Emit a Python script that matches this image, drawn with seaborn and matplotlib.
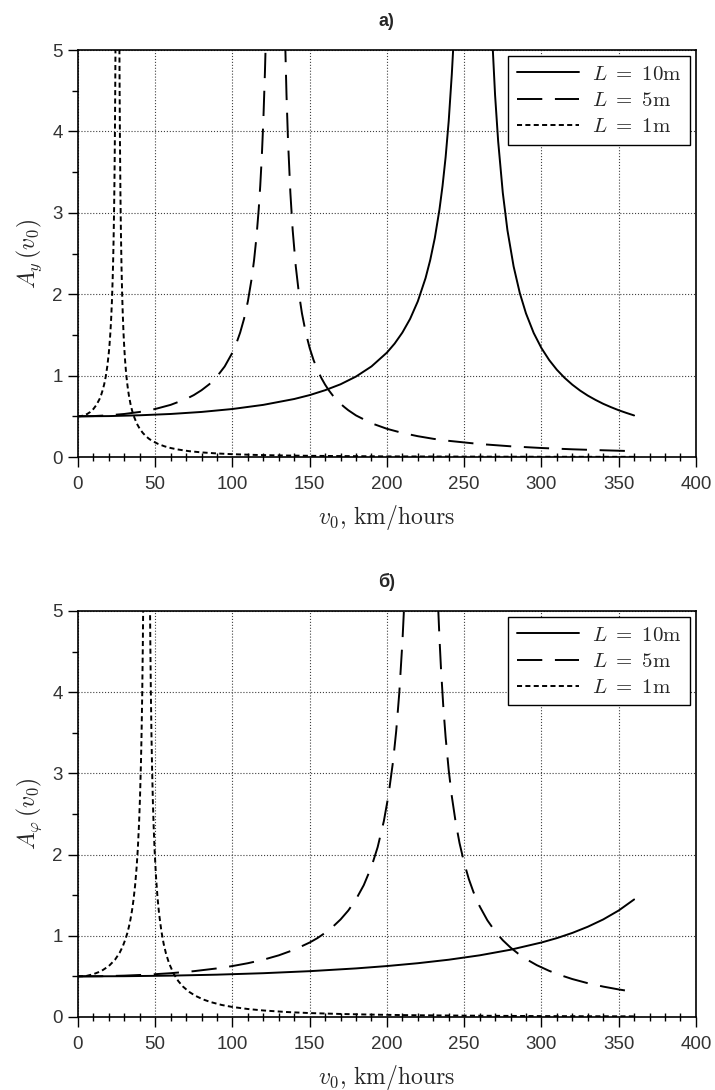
import matplotlib
matplotlib.use('Agg')
import matplotlib.pyplot as plt
import seaborn as sns
from matplotlib.ticker import MultipleLocator

sns.set_theme(style='ticks')
plt.rcParams['font.family'] = ['Liberation Sans', 'DejaVu Sans']
plt.rcParams['mathtext.fontset'] = 'cm'

# DATA

labels = [r'$L\ =\ 10\mathrm{m}$', r'$L\ =\ 5\mathrm{m}$', r'$L\ =\ 1\mathrm{m}$']
titles = ['а)', 'б)']
ylabels = [r'$A_y\,(v_0)$', r'$A_\varphi\,(v_0)$']
xlabel = r'$v_0,\,\mathrm{km/hours}$'

# panel a) A_y
a_v10 = [0, 20, 40, 60, 80, 100, 120, 140, 150, 160, 170, 180, 190, 200, 205, 210, 215,
         220, 225, 228, 231, 234, 236, 238, 240, 242, 243, 244,
         267, 268, 270, 272, 275, 278, 282, 286, 290, 295, 300, 305, 310, 315, 320, 325,
         330, 335, 340, 345, 350, 355, 360]
a_y10 = [0.5, 0.503, 0.513, 0.529, 0.554, 0.59, 0.641, 0.713, 0.761, 0.821, 0.894, 0.989,
         1.113, 1.283, 1.394, 1.529, 1.697, 1.913, 2.198, 2.418, 2.691, 3.04, 3.331, 3.685,
         4.129, 4.704, 5.05, 5.46,
         5.69, 5.21, 4.448, 3.879, 3.247, 2.787, 2.342, 2.015, 1.765, 1.524, 1.339, 1.192,
         1.072, 0.973, 0.889, 0.817, 0.755, 0.702, 0.654, 0.613, 0.575, 0.542, 0.511]

a_v5 = [0, 10, 20, 30, 40, 50, 60, 70, 75, 80, 85, 90, 95, 100, 102.5, 105, 107.5, 110,
        112.5, 114, 115.5, 117, 118, 119, 120, 121, 121.5, 122,
        133.5, 134, 135, 136, 137.5, 139, 141, 143, 145, 147.5, 150, 152.5, 155, 157.5,
        160, 162.5, 165, 167.5, 170, 172.5, 175, 180, 190, 200, 210, 220, 230, 240, 260,
        280, 300, 320, 340, 360]
a_y5 = [0.5, 0.503, 0.513, 0.529, 0.554, 0.59, 0.641, 0.713, 0.761, 0.821, 0.894, 0.989,
        1.113, 1.283, 1.394, 1.529, 1.697, 1.913, 2.198, 2.418, 2.691, 3.04, 3.331, 3.685,
        4.129, 4.704, 5.05, 5.46,
        5.69, 5.21, 4.448, 3.879, 3.247, 2.787, 2.342, 2.015, 1.765, 1.524, 1.339, 1.192,
        1.072, 0.973, 0.889, 0.817, 0.755, 0.702, 0.654, 0.613, 0.575, 0.511, 0.415,
        0.347, 0.296, 0.256, 0.224, 0.199, 0.16, 0.132, 0.111, 0.095, 0.083, 0.072]

a_v1 = [0, 2, 4, 6, 8, 10, 12, 14, 15, 16, 17, 18, 19, 20, 20.5, 21, 21.5, 22, 22.5, 22.8,
        23.1, 23.4, 23.6, 23.8, 24, 24.2, 24.3, 24.4,
        26.7, 26.8, 27, 27.2, 27.5, 27.8, 28.2, 28.6, 29, 29.5, 30, 30.5, 31, 31.5, 32,
        32.5, 33, 34, 35, 36, 38, 40, 42, 44, 46, 48, 52, 56, 60, 64, 68, 72, 80, 90, 100,
        115, 130, 150, 170, 200, 240, 280, 320, 360]
a_y1 = [0.5, 0.503, 0.513, 0.529, 0.554, 0.59, 0.641, 0.713, 0.761, 0.821, 0.894, 0.989,
        1.113, 1.283, 1.394, 1.529, 1.697, 1.913, 2.198, 2.418, 2.691, 3.04, 3.331, 3.685,
        4.129, 4.704, 5.05, 5.46,
        5.69, 5.21, 4.448, 3.879, 3.247, 2.787, 2.342, 2.015, 1.765, 1.524, 1.339, 1.192,
        1.072, 0.973, 0.889, 0.817, 0.755, 0.654, 0.575, 0.511, 0.415, 0.347, 0.296,
        0.256, 0.224, 0.199, 0.16, 0.132, 0.111, 0.095, 0.083, 0.072, 0.057, 0.044, 0.035,
        0.026, 0.02, 0.015, 0.012, 0.008, 0.006, 0.004, 0.003, 0.0025]

# panel б) A_phi
b_v10 = [0, 30, 60, 90, 120, 150, 180, 200, 220, 240, 260, 280, 300, 310, 320, 330, 340,
         350, 360]
b_y10 = [0.5, 0.502, 0.509, 0.521, 0.539, 0.564, 0.598, 0.627, 0.662, 0.705, 0.759, 0.828,
         0.917, 0.971, 1.035, 1.111, 1.201, 1.311, 1.447]

b_v5 = [0, 15, 30, 45, 60, 75, 90, 100, 110, 120, 130, 140, 150, 155, 160, 165, 170, 175,
        180, 185, 190, 194, 198, 201, 204, 206, 208, 210, 211, 212,
        233, 234, 235, 236.5, 238, 240, 242, 244.5, 247, 250, 253, 256, 260, 265, 270,
        275, 280, 285, 290, 297, 305, 312, 320, 330, 340, 350, 360]
b_y5 = [0.5, 0.502, 0.509, 0.521, 0.539, 0.564, 0.598, 0.627, 0.662, 0.705, 0.759, 0.828,
        0.917, 0.971, 1.036, 1.111, 1.201, 1.311, 1.449, 1.623, 1.851, 2.091, 2.411, 2.729,
        3.152, 3.519, 3.99, 4.61, 5.005, 5.48,
        5.12, 4.67, 4.29, 3.82, 3.444, 3.038, 2.717, 2.397, 2.141, 1.897, 1.699, 1.539,
        1.364, 1.191, 1.055, 0.945, 0.855, 0.779, 0.714, 0.638, 0.568, 0.517, 0.467, 0.416,
        0.374, 0.339, 0.309]

b_v1 = [0, 5, 10, 15, 20, 24, 27, 29, 31, 32, 33, 34, 35, 36, 37, 38, 38.8, 39.6, 40.2,
        40.8, 41.2, 41.6, 42, 42.3,
        46.6, 46.8, 47.2, 47.6, 48, 48.5, 49, 49.6, 50.5, 51.5, 52.5, 54, 55.5, 57, 59, 62,
        65, 68, 72, 76, 81, 86, 93, 100, 110, 120, 135, 150, 170, 190, 215, 240, 270, 300,
        330, 360]
b_y1 = [0.5, 0.503, 0.527, 0.564, 0.627, 0.705, 0.791, 0.869, 0.971, 1.035, 1.111, 1.201,
        1.311, 1.447, 1.62, 1.846, 2.085, 2.403, 2.719, 3.137, 3.501, 3.965, 4.579, 5.18,
        5.18, 4.717, 4.0, 3.467, 3.058, 2.661, 2.353, 2.063, 1.737, 1.473, 1.276, 1.058,
        0.9, 0.78, 0.66, 0.531, 0.441, 0.374, 0.309, 0.261, 0.216, 0.183, 0.148, 0.123,
        0.098, 0.08, 0.061, 0.048, 0.037, 0.029, 0.022, 0.018, 0.014, 0.011, 0.009, 0.008]

panels = [
    [(a_v10, a_y10), (a_v5, a_y5), (a_v1, a_y1)],
    [(b_v10, b_y10), (b_v5, b_y5), (b_v1, b_y1)],
]
styles = ['-', (0, (13, 6.5)), (0, (2.6, 1.7))]

fig = plt.figure(figsize=(7.15, 10.9), dpi=100)
axes = [fig.add_axes([0.109, 0.5807, 0.8643, 0.3734]),
        fig.add_axes([0.109, 0.0670, 0.8643, 0.3725])]

for ax, curves, title, ylab in zip(axes, panels, titles, ylabels):
    ax.set_facecolor('white')
    for (v, y), ls, lab in zip(curves, styles, labels):
        sns.lineplot(x=v, y=y, ax=ax, color='black', linewidth=1.4, linestyle=ls, label=lab)
    ax.set_xlim(0, 400)
    ax.set_ylim(0, 5)
    ax.xaxis.set_major_locator(MultipleLocator(50))
    ax.xaxis.set_minor_locator(MultipleLocator(10))
    ax.yaxis.set_major_locator(MultipleLocator(1))
    ax.yaxis.set_minor_locator(MultipleLocator(0.5))
    ax.grid(True, which='major', color='0.25', linestyle=':', linewidth=0.8)
    ax.tick_params(which='major', direction='out', length=7, width=1, colors='black',
                   labelcolor='#333333', labelsize=13.5)
    ax.tick_params(axis='x', which='major', pad=7)
    ax.tick_params(axis='y', which='major', pad=4)
    ax.tick_params(axis='x', which='minor', direction='inout', length=6, width=1,
                   colors='black')
    ax.tick_params(axis='y', which='minor', direction='out', length=4, width=1,
                   colors='black')
    for sp in ax.spines.values():
        sp.set_visible(True)
        sp.set_color('black')
        sp.set_linewidth(1.2)
    ax.set_title(title, fontsize=13, fontweight='bold', pad=17)
    ax.set_xlabel(xlabel, fontsize=17, labelpad=7)
    ax.set_ylabel(ylab, fontsize=17, labelpad=6)
    leg = ax.legend(loc='upper right', fontsize=15, frameon=True, fancybox=False,
                    framealpha=1, edgecolor='black', handlelength=3.0, handletextpad=0.6,
                    borderaxespad=0.3, borderpad=0.4, labelspacing=0.35)
    leg.get_frame().set_linewidth(1.0)

fig.savefig('out.png', dpi=100)
